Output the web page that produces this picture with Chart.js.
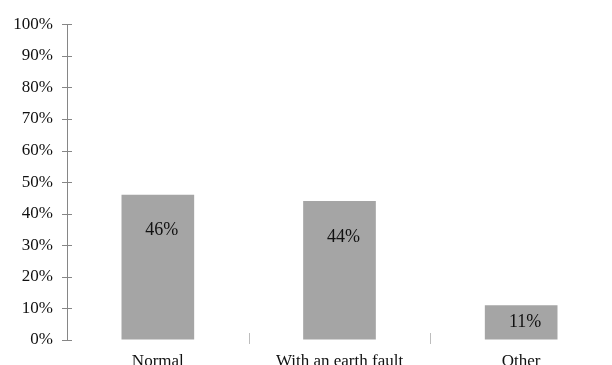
<!DOCTYPE html>
<html>
<head>
<meta charset="utf-8">
<script src="https://cdn.jsdelivr.net/npm/chart.js@4.4.0/dist/chart.umd.min.js"></script>
<style>
  html, body { margin: 0; padding: 0; background: #fff; }
  #wrap { width: 612px; height: 365px; }
</style>
</head>
<body>
<div id="wrap"><canvas id="myChart" width="612" height="365"></canvas></div>
<script>
// categories and shares (percent)
var categories = ['Normal', 'With an earth fault', 'Other'];
var shares = [46, 44, 11];
var yTicks = [0, 10, 20, 30, 40, 50, 60, 70, 80, 90, 100];

var serif = '"Liberation Serif", "Times New Roman", serif';

// small tick marks crossing the axes, and value labels inside the bars
var axisMarks = {
    id: 'axisMarks',
    afterDraw: function(chart) {
        var c = chart.ctx;
        var area = chart.chartArea;
        var y = chart.scales.y, x = chart.scales.x;
        c.save();
        c.lineWidth = 1;
        c.strokeStyle = '#868686';
        yTicks.forEach(function(v) {
            var py = Math.round(y.getPixelForValue(v)) + 0.5;
            c.beginPath();
            c.moveTo(area.left - 5, py);
            c.lineTo(area.left + 5, py);
            c.stroke();
        });
        c.strokeStyle = '#bdbdbd';
        for (var i = 0; i < categories.length - 1; i++) {
            var px = Math.round((x.getPixelForValue(i) + x.getPixelForValue(i + 1)) / 2) + 0.5;
            c.beginPath();
            c.moveTo(px, area.bottom - 7);
            c.lineTo(px, area.bottom + 4);
            c.stroke();
        }
        c.restore();
    },
    afterDatasetsDraw: function(chart) {
        var c = chart.ctx;
        var meta = chart.getDatasetMeta(0);
        c.save();
        c.font = '18px ' + serif;
        c.fillStyle = '#111';
        c.textAlign = 'center';
        c.textBaseline = 'middle';
        meta.data.forEach(function(bar, i) {
            var ly = Math.min(bar.y + 36, (bar.y + bar.base) / 2);
            c.fillText(shares[i] + '%', bar.x + 4, ly);
        });
        c.restore();
    }
};

var ctx = document.getElementById('myChart').getContext('2d');
var myChart = new Chart(ctx, {
    type: 'bar',
    data: {
        labels: categories,
        datasets: [{
            data: shares,
            backgroundColor: '#a5a5a5',
            borderWidth: 0,
            barPercentage: 0.4,
            categoryPercentage: 1
        }]
    },
    options: {
        responsive: false,
        animation: false,
        layout: { padding: { top: 12, right: 0, left: 0, bottom: 0 } },
        plugins: {
            legend: { display: false },
            tooltip: { enabled: false }
        },
        scales: {
            y: {
                min: 0,
                max: 100,
                afterFit: function(scale) { scale.width = 67; },
                ticks: {
                    stepSize: 10,
                    padding: 14,
                    color: '#111',
                    font: { family: serif, size: 17 },
                    callback: function(v) { return v + '%'; }
                },
                grid: { display: true, drawOnChartArea: false, drawTicks: false },
                border: { display: true, color: '#868686' }
            },
            x: {
                afterFit: function(scale) { scale.height = 25; },
                ticks: {
                    padding: 3,
                    color: '#111',
                    font: { family: serif, size: 17 },
                    maxRotation: 0
                },
                grid: { display: false },
                border: { display: false }
            }
        }
    },
    plugins: [axisMarks]
});
</script>
</body>
</html>
